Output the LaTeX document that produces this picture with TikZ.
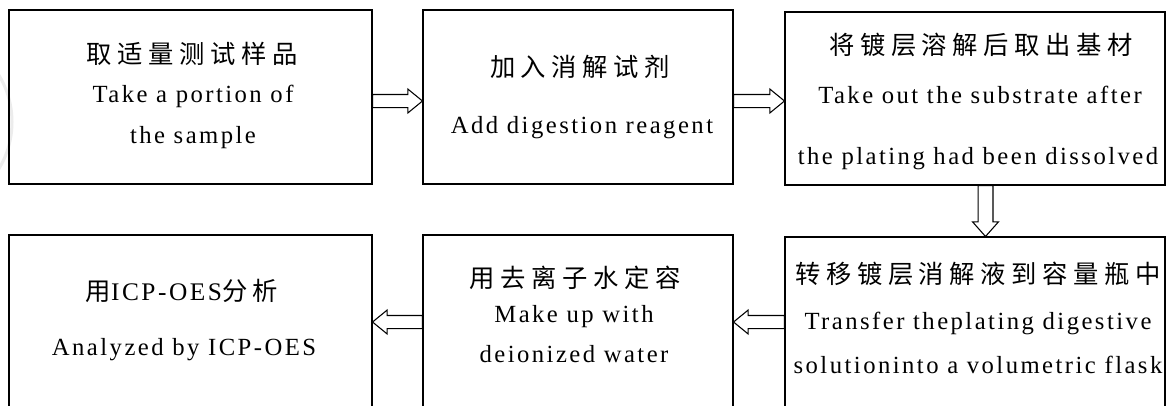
\documentclass[tikz,border=0pt]{standalone}
\usepackage{fontspec}
\setmainfont{Liberation Serif}
\newfontfamily\cjk[LetterSpace=22]{Noto Sans CJK SC}
\newfontfamily\lat[LetterSpace=10]{Liberation Serif}
\usetikzlibrary{calc}
\newcommand\hollowright[2]{%
  \draw[harrow] let \p1=(#1), \p2=(#2) in
    (\x1,\y1+4.9pt) -- (\x2-11pt,\y1+4.9pt) -- (\x2-11pt,\y1+9pt) -- (\x2,\y1)
    -- (\x2-11pt,\y1-9pt) -- (\x2-11pt,\y1-4.9pt) -- (\x1,\y1-4.9pt) -- cycle;}
\newcommand\hollowleft[2]{%
  \draw[harrow] let \p1=(#1), \p2=(#2) in
    (\x1,\y1+4.9pt) -- (\x2+11pt,\y1+4.9pt) -- (\x2+11pt,\y1+9pt) -- (\x2,\y1)
    -- (\x2+11pt,\y1-9pt) -- (\x2+11pt,\y1-4.9pt) -- (\x1,\y1-4.9pt) -- cycle;}
\newcommand\hollowdown[2]{%
  \draw[harrow] let \p1=(#1), \p2=(#2) in
    (\x1-5.6pt,\y1) -- (\x1-5.6pt,\y2+11pt) -- (\x1-9.75pt,\y2+11pt) -- (\x1,\y2)
    -- (\x1+9.75pt,\y2+11pt) -- (\x1+5.6pt,\y2+11pt) -- (\x1+5.6pt,\y1) -- cycle;}
\begin{document}
\begin{tikzpicture}[x=0.75pt,y=-0.75pt,
  box/.style={draw=black, line width=0.8pt, inner sep=0pt, rectangle},
  harrow/.style={draw=black, fill=white, line width=0.8pt},
  cn/.style={font=\cjk\fontsize{19pt}{21pt}\selectfont, inner sep=0pt, anchor=center},
  en/.style={font=\lat\fontsize{18.5pt}{20pt}\selectfont, inner sep=0pt, anchor=base}]
\useasboundingbox (0,0) rectangle (1167,405);
\clip (0,0) rectangle (1167,405);
\fill[white] (0,0) rectangle (1167,405);
% faint watermark arc
\draw[gray!15, line width=2.25pt] (-78,122) circle[radius=67.5pt];
% boxes
\node[box, minimum width=272.25pt, minimum height=130.5pt] (b1) at (190.5,97) {};
\node[box, minimum width=232.5pt, minimum height=130.5pt] (b2) at (578,97) {};
\node[box, minimum width=285pt, minimum height=129.75pt] (b3) at (975,98.5) {};
\node[box, minimum width=285pt, minimum height=141pt] (b4) at (975,331) {};
\node[box, minimum width=232.5pt, minimum height=142.5pt] (b5) at (578,330) {};
\node[box, minimum width=272.25pt, minimum height=142.5pt] (b6) at (190.5,330) {};
% texts
\node[cn] (t1a) at (192,54) {取适量测试样品};
\node[en] (t1b) at (193,102) {Take a portion of};
\node[en] (t1c) at (193,143) {the sample};
\node[cn] (t2a) at (580,67) {加入消解试剂};
\node[en] (t2b) at (582,133) {Add digestion reagent};
\node[cn] (t3a) at (981,45) {将镀层溶解后取出基材};
\node[en] (t3b) at (980,103) {Take out the substrate after};
\node[en] (t3c) at (978,164) {the plating had been dissolved};
\node[cn] (t4a) at (978,274) {转移镀层消解液到容量瓶中};
\node[en] (t4b) at (978,329) {Transfer theplating digestive};
\node[en] (t4c) at (978,373) {solutioninto a volumetric flask};
\node[cn] (t5a) at (575,278) {用去离子水定容};
\node[en] (t5b) at (574,322) {Make up with};
\node[en] (t5c) at (574,362) {deionized water};
\node[cn] (t6a) at (182,291) {用{\lat ICP-OES}分析};
\node[en] (t6b) at (184,355) {Analyzed by ICP-OES};
% arrows
\hollowright{$(b1.east)+(0,4)$}{$(b2.west)+(0,4)$}
\hollowright{$(b2.east)+(0,4)$}{$(b3.west)+(0,2.5)$}
\hollowdown{$(b3.south)+(10.5,0)$}{$(b4.north)+(10.5,0)$}
\hollowleft{b4.west |- 0,322}{b5.east |- 0,322}
\hollowleft{b5.west |- 0,322}{b6.east |- 0,322}
\end{tikzpicture}
\end{document}
